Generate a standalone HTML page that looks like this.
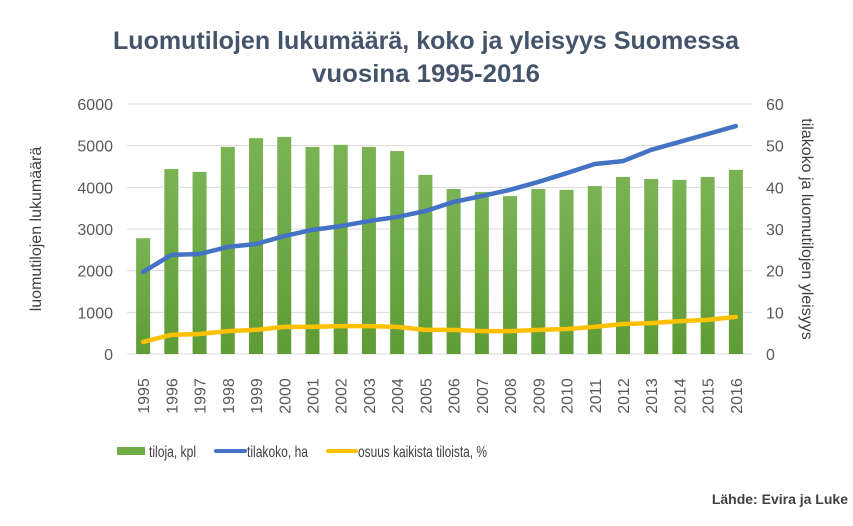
<!DOCTYPE html>
<html><head><meta charset="utf-8"><style>
body{margin:0;background:#fff;}
svg{display:block;font-family:"Liberation Sans",sans-serif;}
</style></head><body>
<svg id="chart" width="853" height="526" viewBox="0 0 853 526">
<rect width="853" height="526" fill="#fff"/>
<text x="426" y="49" text-anchor="middle" font-size="25" font-weight="bold" fill="#44546a" textLength="626" lengthAdjust="spacingAndGlyphs">Luomutilojen lukumäärä, koko ja yleisyys Suomessa</text>
<text x="426" y="82" text-anchor="middle" font-size="25" font-weight="bold" fill="#44546a" textLength="228" lengthAdjust="spacingAndGlyphs">vuosina 1995-2016</text>
<g id="grid"></g><g id="bars"></g><g id="lines"></g><g id="axes"></g>
<text transform="translate(41,229) rotate(-90)" text-anchor="middle" font-size="16" fill="#404040">luomutilojen lukumäärä</text>
<text transform="translate(802,229) rotate(90)" text-anchor="middle" font-size="16" fill="#404040">tilakoko ja luomutilojen yleisyys</text>
<g>
<rect x="117" y="447" width="28" height="8" fill="#70ad47"/>
<text x="149" y="457" font-size="16" fill="#404040" textLength="47" lengthAdjust="spacingAndGlyphs">tiloja, kpl</text>
<line x1="216" y1="451" x2="245" y2="451" stroke="#4472c4" stroke-width="4" stroke-linecap="round"/>
<text x="247" y="457" font-size="16" fill="#404040" textLength="61" lengthAdjust="spacingAndGlyphs">tilakoko, ha</text>
<line x1="328" y1="451" x2="356" y2="451" stroke="#ffc000" stroke-width="4" stroke-linecap="round"/>
<text x="358" y="457" font-size="16" fill="#404040" textLength="129" lengthAdjust="spacingAndGlyphs">osuus kaikista tiloista, %</text>
</g>
<text x="848" y="504" text-anchor="end" font-size="14" font-weight="bold" fill="#404040">Lähde: Evira ja Luke</text>
</svg>
<script>
const years=[1995,1996,1997,1998,1999,2000,2001,2002,2003,2004,2005,2006,2007,2008,2009,2010,2011,2012,2013,2014,2015,2016];
const farms=[2780,4440,4370,4970,5180,5210,4970,5020,4970,4870,4300,3960,3890,3790,3960,3940,4030,4250,4200,4180,4250,4420];
const farmSize=[19.7,23.8,24,25.7,26.4,28.3,29.8,30.7,31.9,32.9,34.3,36.5,37.9,39.4,41.3,43.4,45.6,46.3,49,50.9,52.8,54.7];
const share=[2.9,4.6,4.8,5.5,5.8,6.5,6.5,6.7,6.7,6.5,5.8,5.8,5.5,5.5,5.8,6,6.5,7.2,7.4,7.9,8.2,8.9];
const leftTicks=[0,1000,2000,3000,4000,5000,6000];
const rightTicks=[0,10,20,30,40,50,60];
const NS="http://www.w3.org/2000/svg";
const L=129,R=750,T=104,B=354;
const step=(R-L)/years.length;
const xC=i=>L+step*(i+0.5);
const yL=v=>B-(v/6000)*(B-T);
const yR=v=>B-(v/60)*(B-T);
function mk(tag,attrs,parent){const e=document.createElementNS(NS,tag);for(const k in attrs)e.setAttribute(k,attrs[k]);parent.appendChild(e);return e;}
const grid=document.getElementById('grid'),bars=document.getElementById('bars'),lines=document.getElementById('lines'),axes=document.getElementById('axes');
const defs=mk('defs',{},document.getElementById('chart'));
const lg=mk('linearGradient',{id:'bg',x1:0,y1:0,x2:0,y2:1},defs);
mk('stop',{offset:'0','stop-color':'#7ab354'},lg);mk('stop',{offset:'1','stop-color':'#5e9c36'},lg);
leftTicks.forEach((v,i)=>{
  const ln=mk('line',{x1:127,x2:752,y1:yL(v),y2:yL(v),stroke:'#d9d9d9','stroke-width':1},grid);
  
  
  const t=mk('text',{x:113,y:yL(v)+6,'text-anchor':'end','font-size':16,fill:'#595959'},axes);
  t.textContent=v;
  
  
});
rightTicks.forEach(v=>{
  const t=mk('text',{x:766,y:yR(v)+6,'text-anchor':'start','font-size':16,fill:'#595959'},axes);
  t.textContent=v;
  
  
});
years.forEach((y,i)=>{
  const r=mk('rect',{x:xC(i)-7,y:yL(farms[i]),width:14,height:B-yL(farms[i]),fill:'url(#bg)'},bars);
  
  
  const t=mk('text',{transform:`translate(${xC(i)+6},${396}) rotate(-90)`,'text-anchor':'middle','font-size':16,fill:'#595959'},axes);
  t.textContent=y;
  
  
});
const p1=mk('polyline',{points:farmSize.map((v,i)=>xC(i)+','+yR(v)).join(' '),fill:'none',stroke:'#4472c4','stroke-width':4.5,'stroke-linejoin':'round','stroke-linecap':'round'},lines);


const p2=mk('polyline',{points:share.map((v,i)=>xC(i)+','+yR(v)).join(' '),fill:'none',stroke:'#ffc000','stroke-width':4.5,'stroke-linejoin':'round','stroke-linecap':'round'},lines);


</script>
</body></html>
